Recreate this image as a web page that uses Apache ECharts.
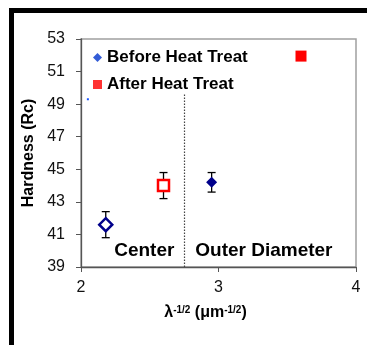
<!DOCTYPE html>
<html>
<head>
<meta charset="utf-8">
<script src="https://cdn.jsdelivr.net/npm/echarts@6/dist/echarts.min.js"></script>
<style>
  html, body { margin: 0; padding: 0; background: #fff; }
  #chart { width: 367px; height: 345px; }
</style>
</head>
<body>
<div id="chart"></div>
<script>
// data
const beforeX = [2.18, 2.95];
const beforeY = [41.6, 44.2];
const beforeErr = [0.8, 0.6];
const afterX = [2.6, 3.6];
const afterY = [44.0, 51.95];
const afterErr = [0.8, null];
const strayX = [2.05];
const strayY = [49.3];
const dividerX = 2.75;
const dividerTop = 49.6;
const regionNames = ["Center", "Outer Diameter"];
const regionX = [2.46, 3.33];
const regionY = [40.0, 40.0];
const yTicks = [39, 41, 43, 45, 47, 49, 51, 53];
const xTicks = [2, 3, 4];

const NAVY = "#00008b";
const RED = "#ff0000";
const FONT = "Liberation Sans";

const chart = echarts.init(document.getElementById("chart"), null, { renderer: "canvas" });

// first point of each series is an open marker, the rest are filled
function points(xs, ys, color, size, hollowSize) {
  return xs.map((x, i) => ({
    value: [x, ys[i]],
    symbolSize: i === 0 ? hollowSize : size,
    itemStyle: i === 0
      ? { color: "#fff", borderColor: color, borderWidth: 2.5, opacity: 1 }
      : { color: color, borderWidth: 0, opacity: 1 },
  }));
}

function errorData(xs, ys, errs) {
  return xs
    .map((x, i) => (errs[i] == null ? null : [x, ys[i] - errs[i], ys[i] + errs[i]]))
    .filter(Boolean);
}

function renderErrorBar(params, api) {
  const lo = api.coord([api.value(0), api.value(1)]);
  const hi = api.coord([api.value(0), api.value(2)]);
  const w = 4;
  const style = { stroke: "#000", lineWidth: 1.3 };
  return {
    type: "group",
    children: [
      { type: "line", shape: { x1: lo[0], y1: lo[1], x2: hi[0], y2: hi[1] }, style },
      { type: "line", shape: { x1: lo[0] - w, y1: lo[1], x2: lo[0] + w, y2: lo[1] }, style },
      { type: "line", shape: { x1: hi[0] - w, y1: hi[1], x2: hi[0] + w, y2: hi[1] }, style },
    ],
  };
}

const option = {
  backgroundColor: "#fff",
  animation: false,
  textStyle: { fontFamily: FONT },
  grid: {
    left: 81,
    right: 11,
    top: 39,
    bottom: 78,
    show: true,
    borderColor: "#a0a0a0",
    borderWidth: 1.5,
  },
  graphic: [
    { type: "rect", shape: { x: 9, y: 8, width: 5, height: 337 }, style: { fill: "#000" } },
    { type: "rect", shape: { x: 9, y: 8, width: 358, height: 5 }, style: { fill: "#000" } },
  ],
  legend: {
    orient: "vertical",
    left: 88,
    top: 44,
    itemGap: 10,
    itemWidth: 9,
    itemHeight: 9,
    textStyle: { fontFamily: FONT, fontSize: 17, fontWeight: "bold", color: "#000" },
    data: [
      { name: "Before Heat Treat", icon: "diamond", itemStyle: { color: "#0033cc", borderWidth: 0 } },
      { name: "After Heat Treat", icon: "rect", itemStyle: { color: RED, borderWidth: 0 } },
    ],
  },
  xAxis: {
    type: "value",
    min: 2,
    max: 4,
    interval: 1,
    splitLine: { show: false },
    axisLine: { show: true, lineStyle: { color: "#555", width: 1.3 } },
    axisTick: { show: true, inside: false, length: 5, lineStyle: { color: "#555" } },
    axisLabel: {
      margin: 13,
      fontFamily: FONT,
      fontSize: 16,
      color: "#111",
      formatter: (v) => (xTicks.includes(v) ? String(v) : ""),
    },
    name: "{b|\u03bb}{s|-1/2}{b| (\u03bcm}{s|-1/2}{b|)}",
    nameLocation: "middle",
    nameGap: 38,
    nameTextStyle: {
      padding: [0, 26, 0, 0],
      rich: {
        b: { fontFamily: FONT, fontSize: 16, fontWeight: "bold", color: "#000" },
        s: { fontFamily: FONT, fontSize: 10, fontWeight: "bold", color: "#000", verticalAlign: "top", padding: [0, 0, 6, 0] },
      },
    },
  },
  yAxis: {
    type: "value",
    min: 39,
    max: 53,
    interval: 2,
    splitLine: { show: false },
    axisLine: { show: true, lineStyle: { color: "#555", width: 1.3 } },
    axisTick: { show: true, inside: false, length: 5, lineStyle: { color: "#555" } },
    axisLabel: {
      margin: 16,
      fontFamily: FONT,
      fontSize: 16,
      color: "#111",
      formatter: (v) => (yTicks.includes(v) ? String(v) : ""),
    },
    name: "Hardness (Rc)",
    nameLocation: "middle",
    nameGap: 43,
    nameTextStyle: { fontFamily: FONT, fontSize: 16, fontWeight: "bold", color: "#000" },
  },
  series: [
    {
      name: "err",
      type: "custom",
      renderItem: renderErrorBar,
      data: errorData(beforeX, beforeY, beforeErr).concat(errorData(afterX, afterY, afterErr)),
      encode: { x: 0, y: [1, 2] },
      z: 1,
      silent: true,
    },
    {
      name: "Before Heat Treat",
      type: "scatter",
      symbol: "diamond",
      data: points(beforeX, beforeY, NAVY, 11, 13),
      z: 3,
    },
    {
      name: "After Heat Treat",
      type: "scatter",
      symbol: "rect",
      data: points(afterX, afterY, RED, 11, 11),
      z: 3,
    },
    {
      name: "stray",
      type: "scatter",
      symbol: "rect",
      symbolSize: 2,
      itemStyle: { color: "#1a56ff", opacity: 1 },
      data: strayX.map((x, i) => [x, strayY[i]]),
      silent: true,
    },
    {
      name: "divider",
      type: "line",
      data: [],
      markLine: {
        silent: true,
        symbol: "none",
        label: { show: false },
        lineStyle: { color: "#444", type: [1.5, 1.5], width: 1.2 },
        data: [[{ coord: [dividerX, 39] }, { coord: [dividerX, dividerTop] }]],
      },
    },
    {
      name: "regions",
      type: "scatter",
      symbolSize: 0,
      silent: true,
      itemStyle: { opacity: 1 },
      data: regionNames.map((n, i) => ({ name: n, value: [regionX[i], regionY[i]] })),
      label: {
        show: true,
        position: "inside",
        formatter: "{b}",
        fontFamily: FONT,
        fontSize: 19,
        fontWeight: "bold",
        color: "#000",
        opacity: 1,
      },
    },
  ],
};

chart.setOption(option);
</script>
</body>
</html>
